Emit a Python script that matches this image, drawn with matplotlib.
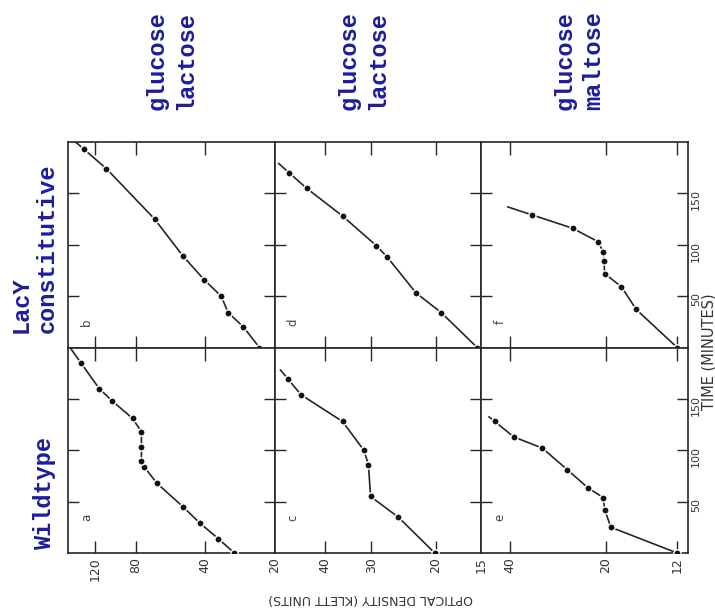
import matplotlib
matplotlib.use('Agg')
import matplotlib.pyplot as plt
import numpy as np
from matplotlib.ticker import FixedLocator, FixedFormatter, NullLocator

# time in minutes, optical density in Klett units
# wildtype (bottom row): a, c, e
a_time = [0, 14, 29, 45, 68, 84, 90, 103, 118, 131, 148, 160, 185]
a_od = [29.9, 35.1, 42.1, 49.9, 64.8, 73.5, 75.5, 75.5, 75.5, 82.5, 101, 115, 138]
c_time = [0, 35, 55, 86, 100, 128, 154, 169]
c_od = [20.1, 25.3, 30.1, 30.5, 31.4, 35.9, 46.6, 50.5]
e_time = [0, 25, 42, 54, 63, 81, 102, 113, 128]
e_od = [12.0, 19.3, 20.2, 20.4, 22.7, 26.4, 31.6, 38.8, 44.5]

# lacY constitutive (top row): b, d, f
b_time = [0, 20, 34, 50, 66, 89, 125, 174, 193]
b_od = [23.3, 27.3, 31.8, 34.1, 40.4, 49.9, 66.2, 107, 134]
d_time = [0, 34, 53, 88, 99, 128, 155, 170]
d_od = [15.4, 19.3, 22.6, 27.1, 29.0, 35.9, 45.0, 50.2]
f_time = [0, 37, 59, 72, 84, 93, 103, 116, 129]
f_od = [12.0, 16.1, 17.9, 20.2, 20.3, 20.4, 21.2, 25.4, 34.0]

od_ticks = [[20, 40, 80, 120], [15, 20, 30, 40], [12, 20, 40]]
od_limits = [(157, 20), (55, 15), (49, 11.1)]
time_ticks = [50, 100, 150]

media = [['glucose', 'lactose'], ['glucose', 'lactose'], ['glucose', 'maltose']]

W, H = 715, 615
BLUE = '#1c1c9e'
INK = '#262626'


def fx(px):
    return px / W


def fy(py):
    return 1 - py / H


def extend(t, od, frac=0.6):
    # carry the drawn curve a little past the last point
    lt = np.log10(od)
    t2 = t[-1] + frac * (t[-1] - t[-2])
    l2 = lt[-1] + frac * (lt[-1] - lt[-2])
    return np.append(t, t2), np.append(od, 10 ** l2)


fig = plt.figure(figsize=(W / 100, H / 100), dpi=100)
axes = fig.subplots(2, 3, sharey=True, sharex='col',
                    gridspec_kw=dict(left=fx(68), right=fx(688), top=fy(142),
                                     bottom=fy(553), wspace=0, hspace=0))

panels = [
    (0, 0, b_time, b_od, 'b'), (0, 1, d_time, d_od, 'd'), (0, 2, f_time, f_od, 'f'),
    (1, 0, a_time, a_od, 'a'), (1, 1, c_time, c_od, 'c'), (1, 2, e_time, e_od, 'e'),
]

for row, col, t, od, letter in panels:
    ax = axes[row, col]
    t = np.array(t, dtype=float)
    od = np.array(od, dtype=float)
    te, ode = extend(t, od, 0.6 if letter != 'e' else 0.3)
    ax.plot(ode, te, '-', color=INK, lw=1.2, zorder=2)
    ax.plot(od, t, 'o', ms=5.2, mfc='#111111', mec='white', mew=1.0, zorder=3)

    ax.set_xscale('log')
    ax.set_xlim(*od_limits[col])
    ax.set_ylim(0, 200)
    ax.xaxis.set_major_locator(FixedLocator(od_ticks[col]))
    ax.xaxis.set_major_formatter(FixedFormatter([str(v) for v in od_ticks[col]]))
    ax.xaxis.set_minor_locator(NullLocator())
    ax.yaxis.set_major_locator(FixedLocator(time_ticks))
    ax.yaxis.set_minor_locator(NullLocator())

    ax.tick_params(which='both', direction='in', top=True, right=True, left=True,
                   bottom=True, width=1, color=INK, labelcolor='#333333')
    ax.tick_params(axis='x', length=9, labelsize=9, pad=3,
                   labelbottom=(row == 1), labeltop=False, labelrotation=90)
    ax.tick_params(axis='y', length=8, labelsize=8, pad=2,
                   labelleft=False, labelright=(col == 2), labelrotation=90)
    for s in ax.spines.values():
        s.set_color(INK)
        s.set_linewidth(1.2)

    ly = 0.125 if row == 0 else 0.172
    ax.text(0.09, ly, letter, transform=ax.transAxes, rotation=90, fontsize=8.5,
            ha='center', va='center', color='#444444')

fig.text(fx(371), fy(598), 'OPTICAL DENSITY (KLETT UNITS)', rotation=180,
         ha='center', va='center', fontsize=9, color='#333333')
fig.text(fx(709), fy(352), 'TIME (MINUTES)', rotation=90,
         ha='center', va='center', fontsize=10.5, color='#333333')

# blue annotations
blue = dict(rotation=90, ha='center', va='bottom', color=BLUE,
            family='Liberation Mono', weight='bold', fontsize=17)
media_x = [(157, 186), (349, 378), (565, 594)]
for (g, s), (x1, x2) in zip(media, media_x):
    fig.text(fx(x1), fy(110), g, **blue)
    fig.text(fx(x2), fy(110), s, **blue)
fig.text(fx(45), fy(550), 'Wildtype', **blue)
fig.text(fx(21), fy(333), 'LacY', **blue)
fig.text(fx(47), fy(333), 'constitutive', **blue)

fig.savefig('out.png', dpi=100)
